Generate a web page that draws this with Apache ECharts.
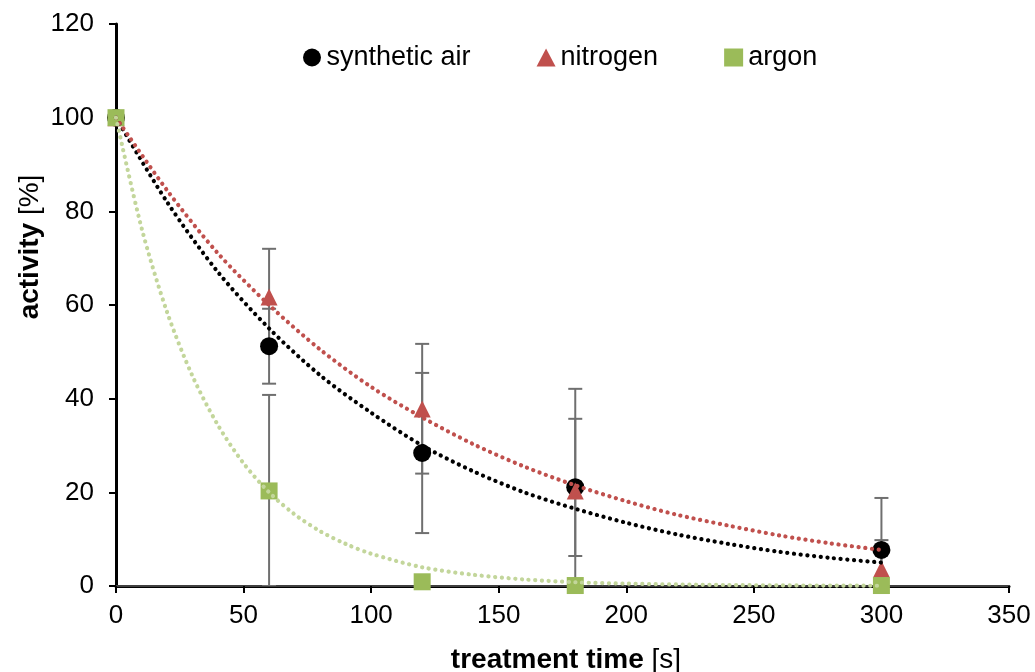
<!DOCTYPE html>
<html>
<head>
<meta charset="utf-8">
<script src="https://cdn.jsdelivr.net/npm/echarts@6/dist/echarts.min.js"></script>
<style>html,body{margin:0;padding:0;background:#fff}#c{width:1035px;height:672px}</style>
</head>
<body>
<div id="c"></div>
<script>
// ---- data ----
var times = [0, 60, 120, 180, 300];
var airValues = [100, 51.2, 28.4, 21.1, 7.7];
var nitrogenValues = [100, 61.7, 37.8, 20.3, 3.6];
var argonValues = [100, 20.3, 0.9, 0.1, 0.1];

var airErrLow = [null, 43.2, 11.3, 0.1, -3.3];
var airErrHigh = [null, 59.2, 45.5, 42.1, 18.8];
var nitrogenErrLow = [null, 51.4, 24.0, 6.4, -2.5];
var nitrogenErrHigh = [null, 72.0, 51.7, 35.7, 9.8];
var argonErrLow = [null, 0, 0.5, 0, 0];
var argonErrHigh = [null, 40.8, 1.3, 0.2, 0.2];

// trend-line points
var trendTimesA = [0, 20, 40, 60, 80, 100, 120, 140, 160, 180, 200, 220, 240, 260, 280, 300];
var airTrend = [100, 82, 67, 55, 45, 37, 30, 24.5, 20, 16.5, 13.5, 11, 9, 7.3, 6, 5];
var nitrogenTrend = [100, 84.5, 71, 60, 50.5, 42.5, 36, 30.3, 25.5, 21.5, 18.1, 15.2, 12.9, 10.8, 9.1, 7.7];
var trendTimesB = [0, 10, 20, 30, 40, 50, 60, 70, 80, 90, 100, 120, 140, 160, 180, 200, 240, 300];
var argonTrend = [100, 76.5, 58.5, 44.8, 34.3, 26.2, 20, 15.3, 11.7, 9, 6.9, 4, 2.4, 1.4, 0.8, 0.5, 0.2, 0.05];

var xTicks = {min: 0, max: 350, interval: 50};
var yTicks = {min: 0, max: 120, interval: 20};

var names = ['synthetic air', 'nitrogen', 'argon'];
var colors = ['#000000', '#c0504d', '#9bbb59'];
var trendColors = ['#000000', '#c0504d', '#c3d69b'];

function pairs(xs, ys) { return xs.map(function (x, i) { return [x, ys[i]]; }); }
function errData(lo, hi) {
  var out = [];
  for (var i = 0; i < times.length; i++) if (lo[i] !== null) out.push([times[i], lo[i], hi[i]]);
  return out;
}

function errSeries(data) {
  return {
    type: 'custom', silent: true, z: 1, clip: true,
    data: data,
    encode: {x: 0, y: [1, 2]},
    renderItem: function (params, api) {
      var x = api.value(0);
      var lo = api.coord([x, api.value(1)]);
      var hi = api.coord([x, api.value(2)]);
      var w = 7;
      var st = {stroke: '#6f6f6f', lineWidth: 2};
      return {
        type: 'group',
        children: [
          {type: 'line', shape: {x1: hi[0], y1: hi[1], x2: lo[0], y2: lo[1]}, style: st},
          {type: 'line', shape: {x1: hi[0] - w, y1: hi[1], x2: hi[0] + w, y2: hi[1]}, style: st},
          {type: 'line', shape: {x1: lo[0] - w, y1: lo[1], x2: lo[0] + w, y2: lo[1]}, style: st}
        ]
      };
    }
  };
}

function trendSeries(xs, ys, color) {
  return {
    type: 'line', silent: true, z: 3, symbol: 'none', smooth: 0.3,
    data: pairs(xs, ys),
    lineStyle: {color: color, width: 4.2, type: [0.1, 6.6], cap: 'round'}
  };
}

function markerSeries(name, vals, color, symbol, size) {
  return {
    name: name, type: 'scatter', z: 2, symbol: symbol, symbolSize: size,
    data: pairs(times, vals),
    itemStyle: {color: color, opacity: 1}
  };
}

var font = "'Liberation Sans', Arial, sans-serif";
var chart = echarts.init(document.getElementById('c'));
chart.setOption({
  animation: false,
  backgroundColor: '#fff',
  textStyle: {fontFamily: font},
  grid: {left: 116, right: 26, top: 24, bottom: 86, containLabel: false},
  legend: {
    left: 298, top: 39, itemGap: 66, itemWidth: 19, itemHeight: 18,
    textStyle: {fontFamily: font, fontSize: 27, color: '#000'},
    data: [
      {name: names[0], icon: 'circle'},
      {name: names[1], icon: 'triangle'},
      {name: names[2], icon: 'rect'}
    ]
  },
  xAxis: [{
    type: 'value', min: xTicks.min, max: xTicks.max, interval: xTicks.interval,
    axisLine: {show: true, lineStyle: {color: '#000', width: 3}},
    axisTick: {show: true, inside: false, length: 7, lineStyle: {color: '#000', width: 2}},
    axisLabel: {fontSize: 26, color: '#000', margin: 17, fontFamily: font},
    splitLine: {show: false}
  }, {
    type: 'value', position: 'top', min: xTicks.min, max: xTicks.max,
    axisLine: {show: true, lineStyle: {color: '#555', width: 1.5}},
    axisTick: {show: false}, axisLabel: {show: false}, splitLine: {show: false}
  }],
  yAxis: [{
    type: 'value', min: yTicks.min, max: yTicks.max, interval: yTicks.interval,
    axisLine: {show: true, lineStyle: {color: '#000', width: 3}},
    axisTick: {show: true, inside: false, length: 7, lineStyle: {color: '#000', width: 2}},
    axisLabel: {fontSize: 26, color: '#000', margin: 22, fontFamily: font},
    splitLine: {show: false}
  }, {
    type: 'value', position: 'right', min: yTicks.min, max: yTicks.max,
    axisLine: {show: true, lineStyle: {color: '#000', width: 2}},
    axisTick: {show: false}, axisLabel: {show: false}, splitLine: {show: false}
  }],
  graphic: [{
    type: 'text', x: 566, y: 660, z: 10,
    style: {
      text: '{b|treatment time}{n| [s]}',
      align: 'center', verticalAlign: 'middle',
      rich: {
        b: {fontFamily: font, fontSize: 28, fontWeight: 'bold', fill: '#000'},
        n: {fontFamily: font, fontSize: 28, fill: '#000'}
      }
    }
  }, {
    type: 'text', x: 30, y: 247, rotation: Math.PI / 2, z: 10,
    style: {
      text: '{b|activity}{n| [%]}',
      align: 'center', verticalAlign: 'middle',
      rich: {
        b: {fontFamily: font, fontSize: 28, fontWeight: 'bold', fill: '#000'},
        n: {fontFamily: font, fontSize: 28, fill: '#000'}
      }
    }
  }],
  series: [
    errSeries(errData(airErrLow, airErrHigh)),
    errSeries(errData(nitrogenErrLow, nitrogenErrHigh)),
    errSeries(errData(argonErrLow, argonErrHigh)),
    markerSeries(names[0], airValues, colors[0], 'circle', 18),
    markerSeries(names[1], nitrogenValues, colors[1], 'triangle', 17),
    markerSeries(names[2], argonValues, colors[2], 'rect', 17),
    trendSeries(trendTimesA, airTrend, trendColors[0]),
    trendSeries(trendTimesA, nitrogenTrend, trendColors[1]),
    trendSeries(trendTimesB, argonTrend, trendColors[2])
  ]
});
</script>
</body>
</html>
